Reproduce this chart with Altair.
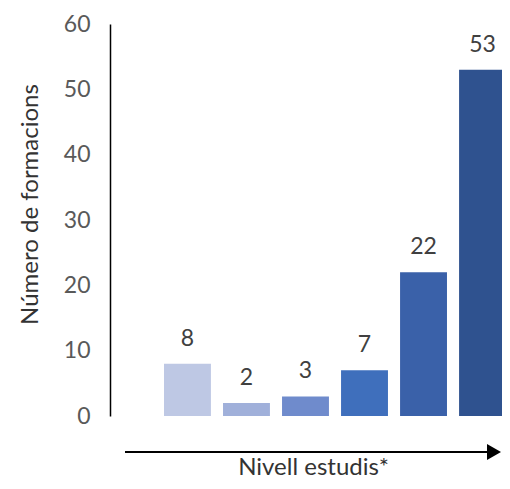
import altair as alt
import pandas as pd

categories = ["N1", "N2", "N3", "N4", "N5", "N6"]
values = [8, 2, 3, 7, 22, 53]
colors = ["#BEC8E4", "#A0B0DA", "#6F8BCC", "#3F6FBC", "#3A61A9", "#2F528F"]
y_ticks = [0, 10, 20, 30, 40, 50, 60]

df = pd.DataFrame({"cat": categories, "val": values})

FONT = "Lato"

x_enc = alt.X(
    "cat:N",
    sort=categories,
    scale=alt.Scale(range=[54, 396], paddingInner=0.205, paddingOuter=0),
    axis=alt.Axis(
        title="Nivell estudis*",
        labels=False,
        ticks=False,
        domain=False,
        titleFont=FONT,
        titleFontSize=24,
        titleFontWeight="normal",
        titleColor="#333333",
        titleBaseline="alphabetic",
        titleY=58,
        titleX=203,
    ),
)

y_enc = alt.Y(
    "val:Q",
    scale=alt.Scale(domain=[0, 60], nice=False),
    axis=alt.Axis(
        title="Número de formacions",
        values=y_ticks,
        ticks=False,
        grid=False,
        domainColor="#000000",
        domainWidth=1.5,
        labelFont=FONT,
        labelFontSize=23,
        labelColor="#595959",
        labelPadding=20,
        titleFont=FONT,
        titleFontSize=24,
        titleFontWeight="normal",
        titleColor="#333333",
        titleAngle=-90,
        titleBaseline="middle",
        titleAlign="center",
        titleX=-80,
        titleY=180,
    ),
)

bars = alt.Chart(df).mark_bar().encode(
    x=x_enc,
    y=y_enc,
    color=alt.Color("cat:N", sort=categories,
                    scale=alt.Scale(domain=categories, range=colors), legend=None),
)

labels = alt.Chart(df).mark_text(
    font=FONT, fontSize=23, color="#404040", baseline="alphabetic", dy=-18
).encode(
    x=alt.X("cat:N", sort=categories),
    y=alt.Y("val:Q"),
    text=alt.Text("val:Q"),
)

arrow_df = pd.DataFrame({"a": [0]})
arrow_line = alt.Chart(arrow_df).mark_rule(color="#000000", strokeWidth=2.2).encode(
    x=alt.value(15), x2=alt.value(379), y=alt.value(428)
)
arrow_head = alt.Chart(arrow_df).mark_point(
    shape="triangle-right", filled=True, color="#000000", opacity=1, size=260
).encode(x=alt.value(384), y=alt.value(428))

chart = alt.layer(bars, labels, arrow_line, arrow_head).properties(
    width=392,
    height=392,
    autosize=alt.AutoSizeParams(type="none"),
    padding={"left": 102, "top": 16, "right": 0, "bottom": 65},
).configure_view(stroke=None)

chart.save("out.html", embed_options={"renderer": "svg", "actions": False})
